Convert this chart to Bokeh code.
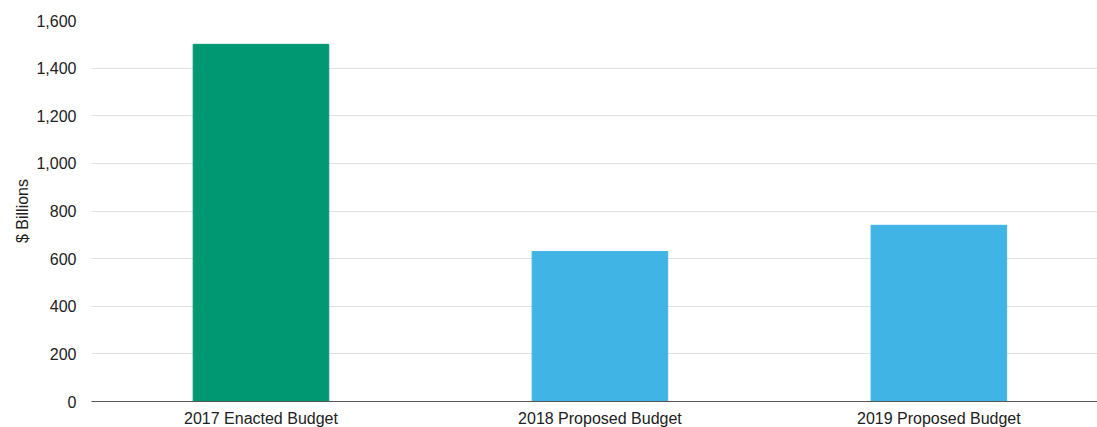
from bokeh.plotting import figure
from bokeh.models import Range1d, FixedTicker, ColumnDataSource
from bokeh.embed import file_html
from bokeh.resources import INLINE

categories = ["2017 Enacted Budget", "2018 Proposed Budget", "2019 Proposed Budget"]
values = [1500, 630, 740]
colors = ["#009873", "#41B4E6", "#41B4E6"]
y_ticks = [0, 200, 400, 600, 800, 1000, 1200, 1400, 1600]

xs = list(range(len(categories)))
src = ColumnDataSource(dict(x=xs, top=values, color=colors))

p = figure(width=1097, height=429, output_backend="svg", toolbar_location=None,
           x_range=Range1d(-0.5, 2.468), y_range=Range1d(0, 1600),
           min_border_left=91, min_border_top=20, min_border_right=0, min_border_bottom=0)
p.outline_line_color = None
p.vbar(x="x", top="top", width=0.4, bottom=0, color="color", source=src)

p.xaxis.ticker = FixedTicker(ticks=xs)
p.xaxis.major_label_overrides = {i: c for i, c in enumerate(categories)}
p.xaxis.major_tick_line_color = None
p.xaxis.major_tick_out = 0
p.xaxis.major_tick_in = 0
p.xaxis.minor_tick_line_color = None
p.xaxis.minor_tick_out = 0
p.xaxis.axis_line_color = "#555555"
p.xaxis.major_label_text_font = "Liberation Sans"
p.xaxis.major_label_text_font_size = "16px"
p.xaxis.major_label_text_color = "#222222"
p.xaxis.major_label_standoff = 8
p.xgrid.grid_line_color = None

p.yaxis.ticker = FixedTicker(ticks=y_ticks)
p.yaxis.major_label_overrides = {t: f"{t:,}" for t in y_ticks}
p.yaxis.major_tick_line_color = None
p.yaxis.major_tick_out = 0
p.yaxis.major_tick_in = 0
p.yaxis.minor_tick_line_color = None
p.yaxis.minor_tick_out = 0
p.yaxis.axis_line_color = None
p.yaxis.major_label_text_font = "Liberation Sans"
p.yaxis.major_label_text_font_size = "16px"
p.yaxis.major_label_text_color = "#222222"
p.yaxis.major_label_standoff = 15
p.yaxis.axis_label = "$ Billions"
p.yaxis.axis_label_text_font = "Liberation Sans"
p.yaxis.axis_label_text_font_size = "16px"
p.yaxis.axis_label_text_font_style = "normal"
p.yaxis.axis_label_text_color = "#222222"
p.yaxis.axis_label_standoff = 2
p.ygrid.grid_line_color = "#e0e0e0"
p.ygrid.grid_line_width = 1

open("out.html", "w").write(file_html(p, INLINE))
